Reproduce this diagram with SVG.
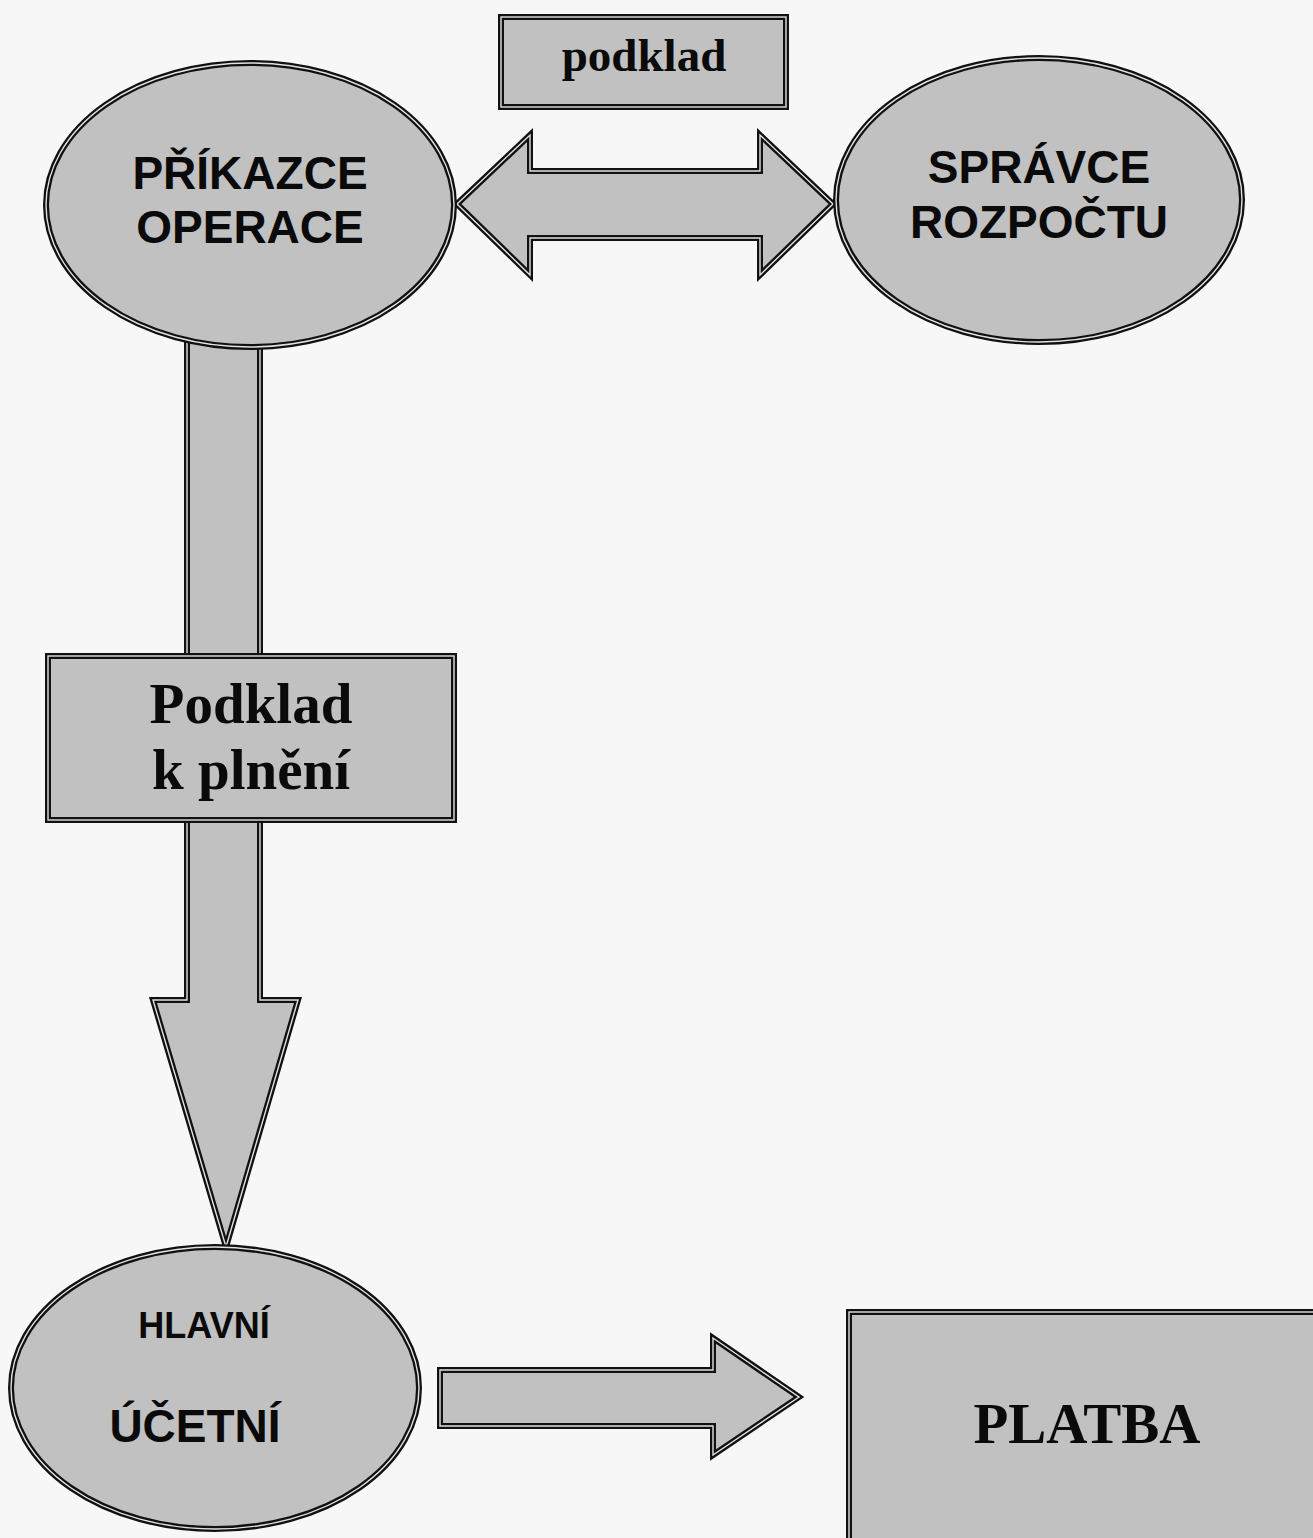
<svg xmlns="http://www.w3.org/2000/svg" xmlns:xlink="http://www.w3.org/1999/xlink" width="1313" height="1538" viewBox="0 0 1313 1538">
  <style>
    .shape { fill: #c1c1c1; stroke: #111; stroke-width: 6; stroke-linejoin: miter; }
    .gap { fill: none; stroke: #e2e2e2; stroke-width: 1.4; stroke-linejoin: miter; }
    .sans { font-family: "Liberation Sans", Arial, sans-serif; font-weight: bold; fill: #0a0a0a; text-anchor: middle; }
    .serif { font-family: "Liberation Serif", "Times New Roman", serif; font-weight: bold; fill: #0a0a0a; text-anchor: middle; }
  </style>
  <defs>
    <path id="arrowBoth" d="M457,204 L530,135 L530,171 L760,171 L760,135 L833,204 L760,275 L760,238 L530,238 L530,275 Z"/>
    <path id="arrowDown" d="M187,340 L260,340 L260,1000 L298,1000 L226,1247 L153,1000 L187,1000 Z"/>
    <path id="arrowRight" d="M440,1370 L713,1370 L713,1338 L799,1397 L713,1455 L713,1426 L440,1426 Z"/>
  </defs>
  <rect width="1313" height="1538" fill="#f7f7f7"/>

  <!-- connectors: block arrows with a double outline -->
  <g id="connectors">
    <use xlink:href="#arrowBoth" class="shape"/>
    <use xlink:href="#arrowBoth" class="gap"/>
    <use xlink:href="#arrowDown" class="shape"/>
    <use xlink:href="#arrowDown" class="gap"/>
    <use xlink:href="#arrowRight" class="shape"/>
    <use xlink:href="#arrowRight" class="gap"/>
  </g>

  <g id="podklad">
    <rect x="501" y="17" width="285" height="90" class="shape"/>
    <rect x="501" y="17" width="285" height="90" class="gap"/>
    <text x="644" y="71" class="serif" font-size="47">podklad</text>
  </g>

  <g id="prikazce">
    <ellipse cx="250" cy="205" rx="204" ry="142" class="shape"/>
    <ellipse cx="250" cy="205" rx="204" ry="142" class="gap"/>
    <text x="250" y="189" class="sans" font-size="46">PŘÍKAZCE</text>
    <text x="250" y="243" class="sans" font-size="46">OPERACE</text>
  </g>

  <g id="spravce">
    <ellipse cx="1039" cy="200" rx="203" ry="142" class="shape"/>
    <ellipse cx="1039" cy="200" rx="203" ry="142" class="gap"/>
    <text x="1039" y="183" class="sans" font-size="46">SPRÁVCE</text>
    <text x="1039" y="238" class="sans" font-size="46">ROZPOČTU</text>
  </g>

  <g id="podklad-k-plneni">
    <rect x="48" y="656" width="406" height="164" class="shape"/>
    <rect x="48" y="656" width="406" height="164" class="gap"/>
    <text x="251" y="723" class="serif" font-size="57">Podklad</text>
    <text x="251" y="789" class="serif" font-size="57">k plnění</text>
  </g>

  <g id="hlavni-ucetni">
    <ellipse cx="215" cy="1388" rx="204" ry="141" class="shape"/>
    <ellipse cx="215" cy="1388" rx="204" ry="141" class="gap"/>
    <text x="204" y="1338" class="sans" font-size="36">HLAVNÍ</text>
    <text x="195" y="1442" class="sans" font-size="46">ÚČETNÍ</text>
  </g>

  <g id="platba">
    <rect x="849" y="1312" width="500" height="300" class="shape"/>
    <rect x="849" y="1312" width="500" height="300" class="gap"/>
    <text x="1087" y="1443" class="serif" font-size="57">PLATBA</text>
  </g>
</svg>
